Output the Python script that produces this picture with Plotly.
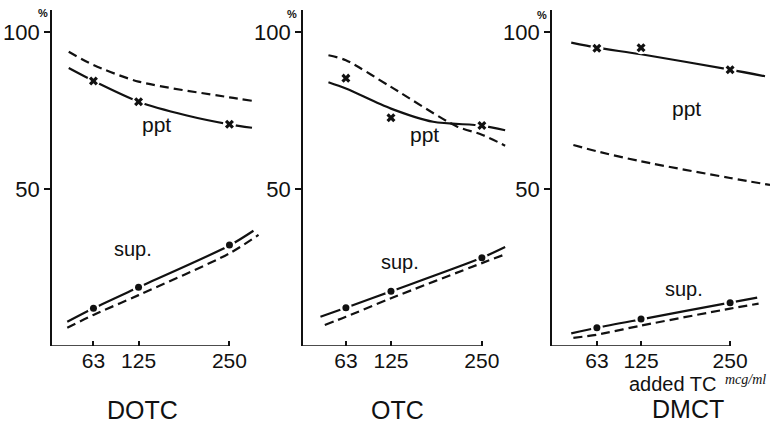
import plotly.graph_objects as go

W, H = 770, 424

x_ticks = [63, 125, 250]
x_tick_labels = ["63", "125", "250"]
y_ticks = [50, 100]
y_tick_labels = ["50", "100"]
panel_names = ["DOTC", "OTC", "DMCT"]

# ---- DOTC ----
dotc_ppt_solid_x = [29, 63, 125, 190, 250, 281]
dotc_ppt_solid_y = [88.5, 84.4, 77.8, 73.5, 70.6, 69.5]
dotc_ppt_dash_x = [29, 63, 125, 250, 281]
dotc_ppt_dash_y = [93.7, 89.5, 84.2, 79.2, 78.1]
dotc_sup_solid_x = [27, 63, 125, 250, 283]
dotc_sup_solid_y = [7.7, 12.0, 18.7, 32.0, 36.7]
dotc_sup_dash_x = [27, 63, 125, 250, 290]
dotc_sup_dash_y = [5.8, 9.9, 16.2, 29.5, 35.4]
dotc_ppt_pts = [84.4, 77.8, 70.6]
dotc_sup_pts = [12.0, 18.7, 32.2]

# ---- OTC ----
otc_ppt_solid_x = [39, 63, 125, 183, 250, 282]
otc_ppt_solid_y = [84.0, 82.0, 75.6, 71.4, 70.2, 68.7]
otc_ppt_dash_x = [39, 63, 125, 215, 250, 282]
otc_ppt_dash_y = [92.6, 91.0, 82.5, 70.0, 67.3, 63.8]
otc_sup_solid_x = [28, 63, 125, 250, 282]
otc_sup_solid_y = [9.3, 12.2, 17.4, 28.1, 31.5]
otc_sup_dash_x = [34, 63, 125, 250, 282]
otc_sup_dash_y = [6.7, 9.3, 15.2, 26.4, 29.2]
otc_ppt_pts = [85.3, 72.7, 70.2]
otc_sup_pts = [12.2, 17.4, 28.1]

# ---- DMCT ----
dmct_ppt_solid_x = [27, 63, 125, 250, 299]
dmct_ppt_solid_y = [96.6, 95.0, 92.9, 88.0, 85.9]
dmct_ppt_dash_x = [30, 63, 125, 250, 306]
dmct_ppt_dash_y = [64.0, 62.0, 58.8, 53.5, 51.3]
dmct_sup_solid_x = [27, 63, 125, 250, 288]
dmct_sup_solid_y = [4.0, 5.8, 8.5, 13.8, 15.4]
dmct_sup_dash_x = [30, 63, 125, 250, 290]
dmct_sup_dash_y = [2.6, 3.6, 6.5, 11.9, 13.5]
dmct_ppt_pts = [94.8, 95.0, 88.0]
dmct_sup_pts = [5.8, 8.6, 13.8]

panels = [
    dict(ppt_s=(dotc_ppt_solid_x, dotc_ppt_solid_y), ppt_d=(dotc_ppt_dash_x, dotc_ppt_dash_y),
         sup_s=(dotc_sup_solid_x, dotc_sup_solid_y), sup_d=(dotc_sup_dash_x, dotc_sup_dash_y),
         ppt_p=dotc_ppt_pts, sup_p=dotc_sup_pts,
         xr=[6, 292], dom_px=(52, 260), ppt_lab=(150, 70.4), sup_lab=(117, 30.9)),
    dict(ppt_s=(otc_ppt_solid_x, otc_ppt_solid_y), ppt_d=(otc_ppt_dash_x, otc_ppt_dash_y),
         sup_s=(otc_sup_solid_x, otc_sup_solid_y), sup_d=(otc_sup_dash_x, otc_sup_dash_y),
         ppt_p=otc_ppt_pts, sup_p=otc_sup_pts,
         xr=[4, 284], dom_px=(303, 506.6), ppt_lab=(171, 67.3), sup_lab=(137, 26.7)),
    dict(ppt_s=(dmct_ppt_solid_x, dmct_ppt_solid_y), ppt_d=(dmct_ppt_dash_x, dmct_ppt_dash_y),
         sup_s=(dmct_sup_solid_x, dmct_sup_solid_y), sup_d=(dmct_sup_dash_x, dmct_sup_dash_y),
         ppt_p=dmct_ppt_pts, sup_p=dmct_sup_pts,
         xr=[0, 306], dom_px=(552, 770), ppt_lab=(189, 75.6), sup_lab=(185, 18.1)),
]

FONT = "Liberation Sans, Arial, sans-serif"
INK = "#111111"
Y_RANGE = [0, 107]
y_dom = [1 - 346 / H, 1 - 10 / H]

fig = go.Figure()
annotations = []
shapes = []
layout_axes = {}

for i, p in enumerate(panels):
    n = "" if i == 0 else str(i + 1)
    xa, ya = "x" + n, "y" + n
    common = dict(xaxis=xa, yaxis=ya, hoverinfo="skip", showlegend=False)
    # solid lines
    for key in ("ppt_s", "sup_s"):
        xs, ys = p[key]
        fig.add_trace(go.Scatter(x=xs, y=ys, mode="lines",
                                 line=dict(color=INK, width=2.2, shape="spline", smoothing=0.8),
                                 **common))
    # white halos around measured points
    fig.add_trace(go.Scatter(x=x_ticks, y=p["ppt_p"], mode="markers",
                             marker=dict(symbol="circle", size=13, color="white"), **common))
    fig.add_trace(go.Scatter(x=x_ticks, y=p["sup_p"], mode="markers",
                             marker=dict(symbol="circle", size=12, color="white"), **common))
    # dashed lines
    for key in ("ppt_d", "sup_d"):
        xs, ys = p[key]
        fig.add_trace(go.Scatter(x=xs, y=ys, mode="lines",
                                 line=dict(color=INK, width=2.2, dash="9px,5px",
                                           shape="spline", smoothing=0.8),
                                 **common))
    # markers
    fig.add_trace(go.Scatter(x=x_ticks, y=p["ppt_p"], mode="markers",
                             marker=dict(symbol="x", size=8, color=INK,
                                         line=dict(width=0)), **common))
    fig.add_trace(go.Scatter(x=x_ticks, y=p["sup_p"], mode="markers",
                             marker=dict(symbol="circle", size=7, color=INK), **common))

    d0, d1 = p["dom_px"]
    layout_axes["xaxis" + n] = dict(
        domain=[d0 / W, min(d1 / W, 1.0)], range=p["xr"], anchor=ya,
        tickvals=x_ticks, ticktext=x_tick_labels, ticks="inside", ticklen=5,
        tickwidth=1.5, tickcolor=INK, showline=False, showgrid=False, zeroline=False,
        tickfont=dict(family=FONT, size=21, color=INK),
    )
    layout_axes["yaxis" + n] = dict(
        domain=y_dom, range=Y_RANGE, anchor=xa,
        tickvals=y_ticks, ticktext=y_tick_labels, ticks="outside", ticklen=6,
        tickwidth=1.5, tickcolor=INK, showline=True, linecolor=INK, linewidth=1.6,
        showgrid=False, zeroline=False,
        tickfont=dict(family=FONT, size=22, color=INK),
    )
    # x-axis baseline ending at the last tick
    shapes.append(dict(type="line", xref=xa, yref=ya, x0=p["xr"][0], x1=x_ticks[-1],
                       y0=0, y1=0, line=dict(color=INK, width=1.6)))
    # curve labels
    annotations.append(dict(x=p["ppt_lab"][0], y=p["ppt_lab"][1], xref=xa, yref=ya,
                            text="ppt", showarrow=False, xanchor="center", yanchor="middle",
                            font=dict(family=FONT, size=21, color=INK)))
    annotations.append(dict(x=p["sup_lab"][0], y=p["sup_lab"][1], xref=xa, yref=ya,
                            text="sup.", showarrow=False, xanchor="center", yanchor="middle",
                            font=dict(family=FONT, size=20, color=INK)))

def paper_note(text, px, py, size, family=FONT):
    return dict(x=px / W, y=1 - py / H, xref="paper", yref="paper", text=text,
                showarrow=False, xanchor="center", yanchor="middle",
                font=dict(family=family, size=size, color=INK))

# % signs at top of each y axis
for px, py in [(43, 13), (292, 14), (542, 15)]:
    annotations.append(paper_note("<b>%</b>", px, py, 11))

# panel titles
for name, (px, py) in zip(panel_names, [(142, 410), (398, 410), (688, 409)]):
    annotations.append(paper_note(name, px, py, 25))

# x-axis caption
annotations.append(paper_note("added TC", 672, 384, 20))
annotations.append(paper_note("<i>mcg/ml</i>", 745, 379, 14, "Liberation Serif, serif"))

fig.update_layout(
    width=W, height=H, margin=dict(l=0, r=0, t=0, b=0),
    paper_bgcolor="white", plot_bgcolor="white", showlegend=False,
    annotations=annotations, shapes=shapes, **layout_axes,
)

fig.write_html("out.html", config={"displayModeBar": False},
               post_script="document.body.style.margin='0';document.body.style.overflow='hidden';")
